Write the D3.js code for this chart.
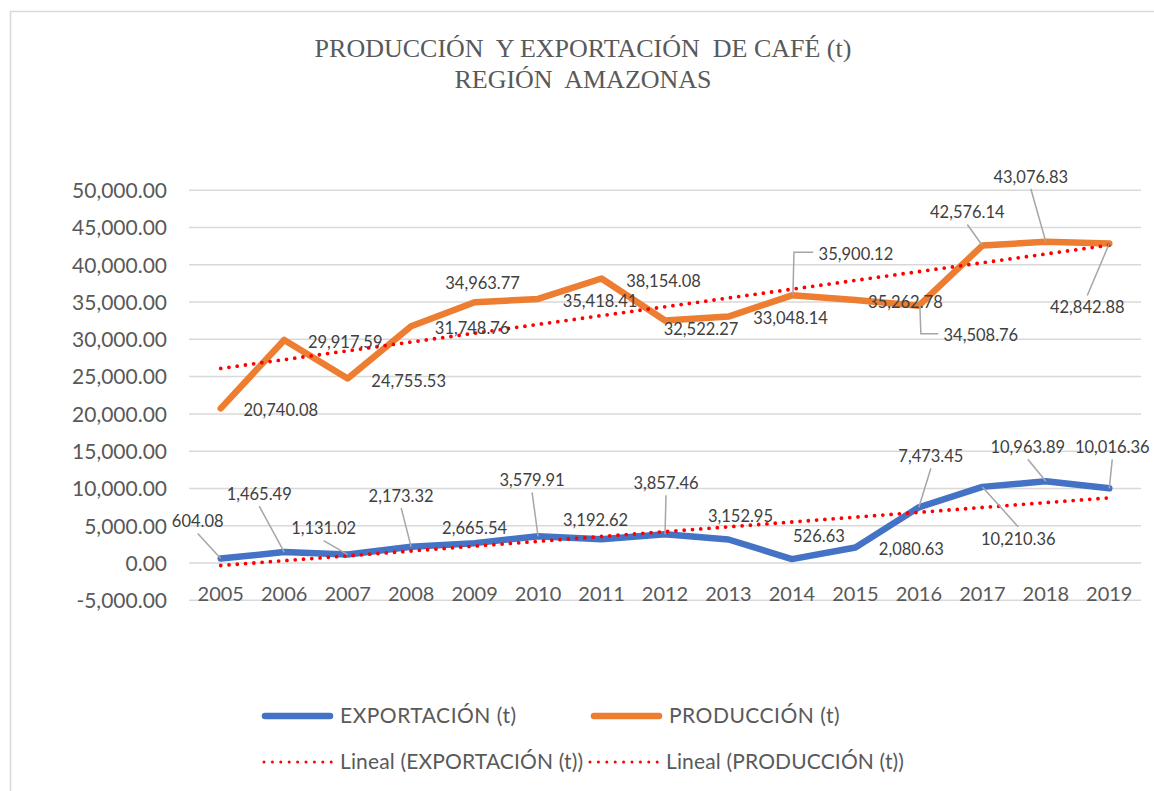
<!DOCTYPE html>
<html>
<head>
<meta charset="utf-8">
<script src="https://cdn.jsdelivr.net/npm/d3@7"></script>
<style>
  html, body { margin: 0; padding: 0; background: #fff; }
  svg { display: block; }
</style>
</head>
<body>
<svg id="chart" width="1154" height="791"></svg>
<script>
// Years on the category axis
const years = ["2005","2006","2007","2008","2009","2010","2011","2012","2013","2014","2015","2016","2017","2018","2019"];

// Coffee export, tonnes
const exportacion = [604.08, 1465.49, 1131.02, 2173.32, 2665.54, 3579.91, 3192.62, 3857.46, 3152.95, 526.63, 2080.63, 7473.45, 10210.36, 10963.89, 10016.36];

// Coffee production, tonnes
const produccion = [20740.08, 29917.59, 24755.53, 31748.76, 34963.77, 35418.41, 38154.08, 32522.27, 33048.14, 35900.12, 35262.78, 34508.76, 42576.14, 43076.83, 42842.88];

// Value axis ticks
const yTicks = [-5000, 0, 5000, 10000, 15000, 20000, 25000, 30000, 35000, 40000, 45000, 50000];

// Data-label placement: offset of the label centre from its point [dx, dy],
// plus leader style: null (none), "b" (from label bottom), "t" (from label top), "e" (elbow from label left)
const expLabelLayout = [
  [-23, -37, "b"], [-25, -58, "b"], [-24, -26, "b"], [-10, -51, "b"], [0, -15, null],
  [-6, -56, "b"], [-6, -19, null], [1, -51, "b"], [12, -23, null], [27, -23, null],
  [56, 2, null], [12, -51, "b"], [36, 52, "t"], [-18, -34, "b"], [3, -41, "b"]
];
const prodLabelLayout = [
  [60, 2, null], [61, 2, null], [61, 3, null], [61, 2, null], [8, -19, null],
  [62, 2, null], [62, 3, null], [36, 9, null], [62, 2, null], [64, -41, "e"],
  [50, 2, null], [62, 30, "e"], [-15, -33, "b"], [-15, -65, "b"], [-22, 64, "t"]
];

const svg = d3.select("#chart");
const W = 1154, H = 791;
const FONT = "Lato, 'Open Sans', 'DejaVu Sans', sans-serif";
const TEXT = "#595959";

// chart border
svg.append("rect")
  .attr("x", 10.5).attr("y", 11.5)
  .attr("width", W + 20).attr("height", H + 20)
  .attr("fill", "#fff").attr("stroke", "#D9D9D9").attr("stroke-width", 1.5);

// title
const title = svg.append("text")
  .attr("text-anchor", "middle")
  .attr("fill", TEXT)
  .style("font-family", "'Liberation Serif', 'Times New Roman', serif")
  .style("font-size", "26px")
  .style("white-space", "pre");
title.append("tspan").attr("x", 583).attr("y", 57).text("PRODUCCIÓN  Y EXPORTACIÓN  DE CAFÉ (t)");
title.append("tspan").attr("x", 583).attr("y", 88).text("REGIÓN  AMAZONAS");

// scales
const plotL = 189, plotR = 1141;
const x = d3.scaleBand().domain(years).range([plotL, plotR]).paddingInner(0).paddingOuter(0);
const cx = d => x(d) + x.bandwidth() / 2;
const y = d3.scaleLinear().domain([-5000, 50000]).range([600.3, 190.2]);

// horizontal gridlines
svg.append("g")
  .selectAll("line")
  .data(yTicks)
  .join("line")
  .attr("x1", plotL).attr("x2", plotR)
  .attr("y1", d => y(d)).attr("y2", d => y(d))
  .attr("stroke", "#D9D9D9").attr("stroke-width", 1.5);

// number format with a plain hyphen as the minus sign
const locale = d3.formatLocale({ decimal: ".", thousands: ",", grouping: [3], currency: ["", ""], minus: "-" });
const fmt = locale.format(",.2f");

// value axis labels
const yAxis = d3.axisLeft(y).tickValues(yTicks).tickFormat(fmt).tickSize(0).tickPadding(0);
const gy = svg.append("g").attr("transform", `translate(167,0)`).call(yAxis);
gy.select(".domain").remove();
gy.selectAll("text")
  .attr("fill", TEXT)
  .style("font-family", FONT)
  .style("font-size", "21px")
  .attr("dy", "0.35em");

// category axis labels (sit just below the zero line)
const xAxis = d3.axisBottom(x).tickSize(0).tickPadding(0);
const gx = svg.append("g").attr("transform", `translate(0,${y(0)})`).call(xAxis);
gx.select(".domain").remove();
gx.selectAll("text")
  .attr("fill", TEXT)
  .attr("y", 0)
  .attr("dy", 38)
  .style("font-family", FONT)
  .style("font-size", "20px");

// linear trendlines (least squares against category index)
function linearFit(vals) {
  const n = vals.length;
  const xs = d3.range(n);
  const mx = d3.mean(xs), my = d3.mean(vals);
  let sxy = 0, sxx = 0;
  xs.forEach((xi, i) => { sxy += (xi - mx) * (vals[i] - my); sxx += (xi - mx) * (xi - mx); });
  const b = sxy / sxx, a = my - b * mx;
  return [a, a + b * (n - 1)];
}

const line = d3.line().x((d, i) => cx(years[i])).y(d => y(d));

function drawSeries(vals, color) {
  svg.append("path")
    .datum(vals)
    .attr("d", line)
    .attr("fill", "none")
    .attr("stroke", color)
    .attr("stroke-width", 6.5)
    .attr("stroke-linejoin", "round")
    .attr("stroke-linecap", "round");
}

function drawTrend(vals) {
  const [y0, y1] = linearFit(vals);
  svg.append("line")
    .attr("x1", cx(years[0])).attr("y1", y(y0))
    .attr("x2", cx(years[years.length - 1])).attr("y2", y(y1))
    .attr("stroke", "#FF0000")
    .attr("stroke-width", 3.8)
    .attr("stroke-linecap", "round")
    .attr("stroke-dasharray", "0 8.3");
}

drawSeries(exportacion, "#4472C4");
drawSeries(produccion, "#ED7D31");
drawTrend(exportacion);
drawTrend(produccion);

// data labels with leader lines
function drawLabels(vals, layout) {
  const g = svg.append("g");
  vals.forEach((v, i) => {
    const px = cx(years[i]), py = y(v);
    const [dx, dy, lead] = layout[i];
    const lx = px + dx, ly = py + dy;
    const label = fmt(v);
    const halfW = label.length * 4.3;
    let pts = null;
    if (lead === "b") pts = [[lx, ly + 12], [px, py]];
    else if (lead === "t") pts = [[lx, ly - 12], [px, py]];
    else if (lead === "e") pts = [[lx - halfW - 4, ly - 2], [px + 2, ly - 2], [px + 1, py]];
    if (pts) {
      g.append("polyline")
        .attr("points", pts.map(p => p.join(",")).join(" "))
        .attr("fill", "none")
        .attr("stroke", "#A6A6A6")
        .attr("stroke-width", 1.5);
    }
    g.append("text")
      .attr("x", lx).attr("y", ly)
      .attr("dy", "0.35em")
      .attr("text-anchor", "middle")
      .attr("fill", "#404040")
      .style("font-family", FONT)
      .style("font-size", "16.5px")
      .text(label);
  });
}
drawLabels(produccion, prodLabelLayout);
drawLabels(exportacion, expLabelLayout);

// legend
const legendItems = [
  { name: "EXPORTACIÓN (t)", color: "#4472C4", dotted: false, x: 262, y: 716, ls: 0.5 },
  { name: "PRODUCCIÓN (t)", color: "#ED7D31", dotted: false, x: 591, y: 716, ls: 0.5 },
  { name: "Lineal (EXPORTACIÓN (t))", color: "#FF0000", dotted: true, x: 262, y: 762, ls: 0.15 },
  { name: "Lineal (PRODUCCIÓN (t))", color: "#FF0000", dotted: true, x: 588, y: 762, ls: 0.15 }
];
const lg = svg.append("g")
  .selectAll("g")
  .data(legendItems)
  .join("g")
  .attr("transform", d => `translate(${d.x},${d.y})`);
lg.append("line")
  .attr("x1", d => d.dotted ? 2 : 3).attr("x2", d => d.dotted ? 70 : 68)
  .attr("y1", 0).attr("y2", 0)
  .attr("stroke", d => d.color)
  .attr("stroke-width", d => d.dotted ? 3 : 6.5)
  .attr("stroke-linecap", "round")
  .attr("stroke-dasharray", d => d.dotted ? "0 8.4" : null);
lg.append("text")
  .attr("x", 78).attr("y", 0)
  .attr("dy", "0.35em")
  .attr("fill", TEXT)
  .style("font-family", FONT)
  .style("font-size", "21px")
  .style("letter-spacing", d => d.ls + "px")
  .text(d => d.name);
</script>
</body>
</html>
